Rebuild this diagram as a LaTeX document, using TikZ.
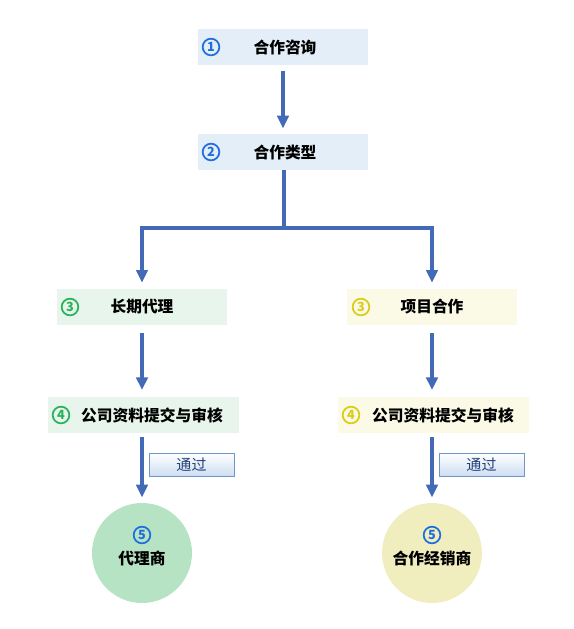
\documentclass[tikz,border=0pt]{standalone}
\usepackage{fontspec}
\setmainfont{Noto Sans CJK SC}
\usetikzlibrary{arrows.meta,positioning,calc}

\definecolor{boxblue}{RGB}{228,238,249}
\definecolor{boxgreen}{RGB}{232,245,236}
\definecolor{boxyellow}{RGB}{250,250,230}
\definecolor{dotgreen}{RGB}{182,227,196}
\definecolor{dotyellow}{RGB}{240,238,190}
\definecolor{flowblue}{RGB}{66,106,182}
\definecolor{numblue}{RGB}{30,110,220}
\definecolor{numgreen}{RGB}{40,178,90}
\definecolor{numyellow}{RGB}{218,204,24}
\definecolor{passedge}{RGB}{110,150,200}
\definecolor{passfill}{RGB}{205,222,242}
\definecolor{passtext}{RGB}{38,66,120}

\begin{document}
\begin{tikzpicture}[
  x=0.75pt, y=-0.75pt,
  box/.style={rectangle,fill=#1,minimum width=170*0.75pt,minimum height=36*0.75pt,inner sep=0pt},
  widebox/.style={box=#1,minimum width=191*0.75pt},
  num/.style={circle,draw=#1,text=#1,line width=1.3pt,inner sep=0pt,minimum size=12.5pt,
    font=\bfseries\fontsize{9.5}{9.5}\selectfont},
  lbl/.style={font=\bfseries\fontsize{11.8}{11.8}\selectfont},
  dot/.style={circle,fill=#1,minimum size=100*0.75pt,inner sep=0pt},
  flow/.style={draw=flowblue,line width=2.6pt,-{Triangle[width=8.5pt,length=9.5pt]}},
  pass/.style={rectangle,draw=passedge,top color=white,bottom color=passfill,
    minimum width=85*0.75pt,minimum height=23*0.75pt,inner sep=0pt,text=passtext,
    font=\fontsize{11.3}{11.3}\selectfont}
]
  \useasboundingbox (0,0) rectangle (574,629);

  % Top boxes
  \node[box=boxblue] (cons) at (283,47) {};
  \node[num=numblue] (cons-n) at (211,47) {1};
  \node[lbl] (cons-t) at (285,47) {合作咨询};
  \node[box=boxblue] (kind) at (283,152) {};
  \node[num=numblue] (kind-n) at (211,152) {2};
  \node[lbl] (kind-t) at (285,152) {合作类型};

  % Left branch
  \node[box=boxgreen] (agent) at (142,307) {};
  \node[num=numgreen] (agent-n) at (70,307) {3};
  \node[lbl] (agent-t) at (142,307) {长期代理};
  \node[widebox=boxgreen] (checkl) at (143,415) {};
  \node[num=numgreen] (checkl-n) at (61,415) {4};
  \node[lbl] (checkl-t) at (152,415) {公司资料提交与审核};
  \node[pass] (passl) at (191.5,464.5) {通过};
  \node[dot=dotgreen] (endl) at (142,553) {};
  \node[num=numblue] (endl-n) at (142,535) {5};
  \node[lbl] (endl-t) at (142,558) {代理商};

  % Right branch
  \node[box=boxyellow] (proj) at (432,307) {};
  \node[num=numyellow] (proj-n) at (361,307) {3};
  \node[lbl] (proj-t) at (432,307) {项目合作};
  \node[widebox=boxyellow] (checkr) at (433,415) {};
  \node[num=numyellow] (checkr-n) at (351,415) {4};
  \node[lbl] (checkr-t) at (443,415) {公司资料提交与审核};
  \node[pass] (passr) at (481.5,464.5) {通过};
  \node[dot=dotyellow] (endr) at (432,553) {};
  \node[num=numblue] (endr-n) at (432,535) {5};
  \node[lbl] (endr-t) at (432,558) {合作经销商};

  % Connectors
  \coordinate (split) at (284,228);
  \draw[flow,shorten <=4pt,shorten >=4pt] (cons) -- (kind);
  \draw[flow,-] (kind.south -| split) -- (split);
  \draw[flow,shorten >=4.5pt,line join=miter] (split) -| (agent.north);
  \draw[flow,shorten >=4.5pt,line join=miter] (split) -| (proj.north);
  \draw[flow,shorten <=6pt,shorten >=5pt] (agent) -- (agent |- checkl.north);
  \draw[flow,shorten <=6pt,shorten >=5pt] (proj) -- (proj |- checkr.north);
  \draw[flow,shorten <=3pt,shorten >=4pt] (checkl.south -| endl) -- (endl);
  \draw[flow,shorten <=3pt,shorten >=4pt] (checkr.south -| endr) -- (endr);
\end{tikzpicture}
\end{document}
